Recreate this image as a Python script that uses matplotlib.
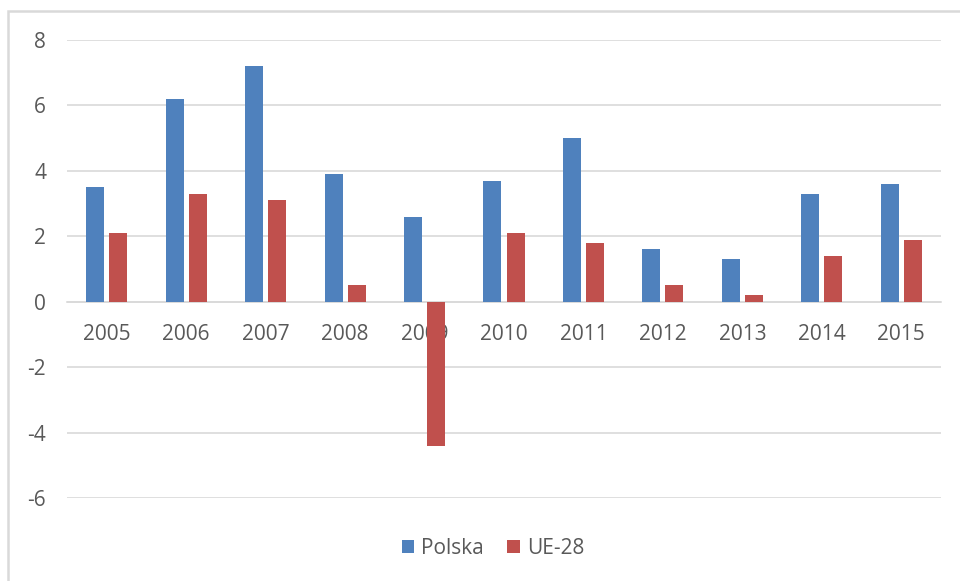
import matplotlib
matplotlib.use("Agg")
import matplotlib.pyplot as plt
from matplotlib.patches import Rectangle
import numpy as np

# dane
lata = ['2005', '2006', '2007', '2008', '2009', '2010', '2011', '2012', '2013', '2014', '2015']
polska = [3.5, 6.2, 7.2, 3.9, 2.6, 3.7, 5.0, 1.6, 1.3, 3.3, 3.6]
ue28 = [2.1, 3.3, 3.1, 0.5, -4.4, 2.1, 1.8, 0.5, 0.2, 1.4, 1.9]

plt.rcParams['font.family'] = ['Open Sans', 'DejaVu Sans']
szary = '#595959'

fig = plt.figure(figsize=(9.6, 5.81), dpi=100)
fig.patch.set_facecolor('white')

# ramka wykresu (jak w Excelu)
fig.patches.append(Rectangle((8/960, -0.05), 1.0, 1 - 11/581 + 0.05,
                             transform=fig.transFigure, fill=False,
                             edgecolor='#d9d9d9', linewidth=1.8))

ax = fig.add_axes([67/960, 1 - 498/581, (941 - 67)/960, (498 - 40)/581])

x = np.arange(len(lata))
w = 0.227
off = 0.145
ax.bar(x - off, polska, w, color='#4F81BD', label='Polska', zorder=3)
ax.bar(x + off, ue28, w, color='#C0504D', label='UE-28', zorder=3)

ax.set_xlim(-0.5, len(lata) - 0.5)
ax.set_ylim(-6, 8)
ax.set_yticks(range(-6, 9, 2))
ax.set_yticklabels([str(v) for v in range(-6, 9, 2)])
ax.yaxis.grid(True, color='#d9d9d9', linewidth=1.2, zorder=0)
ax.set_axisbelow(True)

ax.set_xticks(x)
ax.set_xticklabels(lata)
for s in ['top', 'right', 'left']:
    ax.spines[s].set_visible(False)
ax.spines['bottom'].set_position(('data', 0))
ax.spines['bottom'].set_color('#d9d9d9')
ax.spines['bottom'].set_linewidth(1.2)

ax.tick_params(axis='x', length=0, pad=16, labelsize=15, labelcolor=szary)
ax.tick_params(axis='y', length=0, pad=15, labelsize=15, labelcolor=szary)

fig.legend(loc='center', bbox_to_anchor=(493/960, 1 - 548/581), ncol=2,
           frameon=False, fontsize=15, labelcolor=szary, handlelength=0.6,
           handleheight=0.6, handletextpad=0.35, columnspacing=1.1)

fig.savefig('out.png', dpi=100)
